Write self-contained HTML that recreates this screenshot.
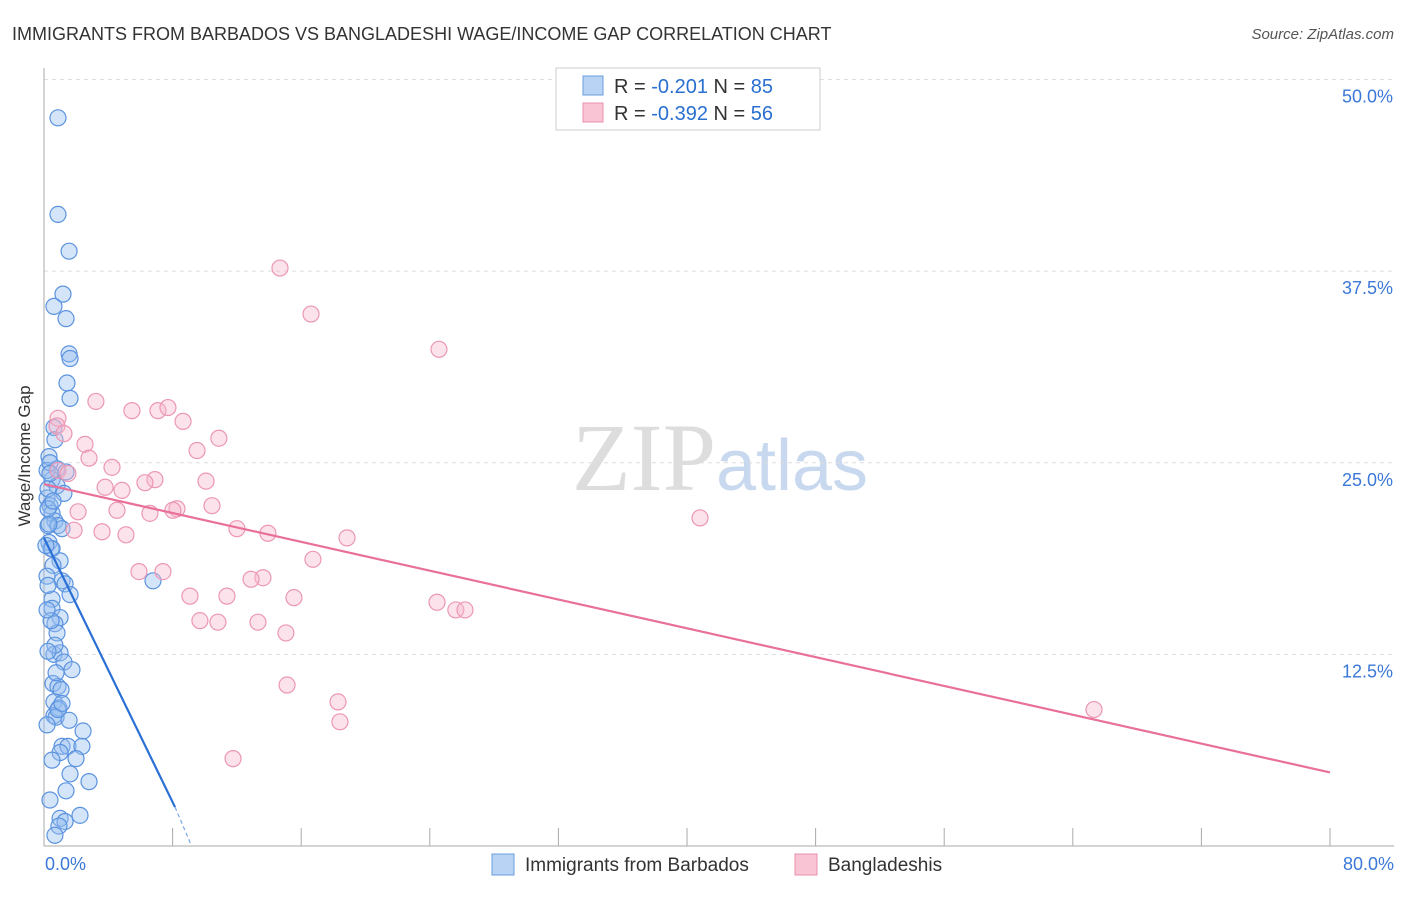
<!DOCTYPE html>
<html><head><meta charset="utf-8"><style>
body{margin:0;background:#fff;font-family:"Liberation Sans",sans-serif}
</style></head><body>
<svg width="1406" height="892" xmlns="http://www.w3.org/2000/svg" font-family="Liberation Sans, sans-serif">
<text x="12" y="40" font-size="18" fill="#333">IMMIGRANTS FROM BARBADOS VS BANGLADESHI WAGE/INCOME GAP CORRELATION CHART</text>
<text x="1394" y="39" font-size="15" fill="#555" font-style="italic" text-anchor="end">Source: ZipAtlas.com</text>
<text x="720" y="490" font-size="96" fill="#ddd" text-anchor="middle" font-family="Liberation Serif, serif">ZIP<tspan fill="#c8d8ee" font-family="Liberation Sans, sans-serif" font-size="72">atlas</tspan></text>
<g id="grid"></g>
<line x1="44" y1="68" x2="44" y2="846" stroke="#aaa"/>
<line x1="44" y1="846" x2="1394" y2="846" stroke="#aaa"/>
<text x="30" y="456" font-size="17" fill="#333" text-anchor="middle" transform="rotate(-90 30 456)">Wage/Income Gap</text>
<g id="pts"></g>
<g id="lines"></g>
<g>
<rect x="556" y="68" width="264" height="62" fill="#fff" stroke="#ccc"/>
<rect x="583" y="76" width="20" height="19" fill="#b9d3f5" stroke="#6a9de0"/>
<rect x="583" y="103" width="20" height="19" fill="#f9c5d4" stroke="#ea90ab"/>
<text x="614" y="93" font-size="20" fill="#333">R = <tspan fill="#2a6fd0">-0.201</tspan>   N = <tspan fill="#2a6fd0">85</tspan></text>
<text x="614" y="120" font-size="20" fill="#333">R = <tspan fill="#2a6fd0">-0.392</tspan>   N = <tspan fill="#2a6fd0">56</tspan></text>
</g>
<g>
<rect x="492" y="854" width="22" height="21" fill="#b9d3f5" stroke="#6a9de0"/>
<text x="525" y="871" font-size="19" fill="#333">Immigrants from Barbados</text>
<rect x="795" y="854" width="22" height="21" fill="#f9c5d4" stroke="#ea90ab"/>
<text x="828" y="871" font-size="19" fill="#333">Bangladeshis</text>
</g>
<text x="45" y="870" font-size="18" fill="#3b78d8">0.0%</text>
<text x="1394" y="870" font-size="18" fill="#3b78d8" text-anchor="end">80.0%</text>
</svg>
<script>
const yTicks=[12.5,25,37.5,50];
const yTickLabels=["12.5%","25.0%","37.5%","50.0%"];
const xTicks=[8,16,24,32,40,48,56,64,72,80];
const blueX=[0.87,0.87,1.56,1.18,0.62,1.37,1.56,1.62,1.43,1.62,0.62,0.68,0.31,0.81,1.37,0.5,0.81,1.24,0.19,0.37,0.5,0.68,0.25,0.87,1.12,0.31,0.44,1.0,0.56,0.19,1.12,1.31,1.62,0.5,0.5,1.0,0.68,0.81,0.62,1.0,1.24,1.74,0.56,0.87,1.06,0.62,0.93,0.62,0.75,1.56,2.43,1.12,1.49,2.36,1.0,1.99,1.62,2.8,2.24,1.0,1.31,0.93,0.68,6.78,0.19,0.37,0.25,0.31,0.5,0.25,0.44,0.68,0.25,0.87,0.19,0.5,0.37,0.25,0.37,0.56,0.12,0.19,0.75,1.12,1.37];
const blueY=[47.5,41.2,38.8,36.0,35.2,34.4,32.1,31.8,30.2,29.2,27.3,26.5,25.4,24.6,24.4,23.9,23.5,23.0,22.7,22.2,21.7,21.2,20.9,20.9,20.7,19.8,19.4,18.6,18.3,17.6,17.3,17.1,16.4,16.1,15.5,14.9,14.5,13.9,12.5,12.6,12.0,11.5,10.6,10.4,10.2,9.4,9.0,8.5,8.4,8.2,7.5,6.5,6.5,6.5,6.1,5.7,4.7,4.2,2.0,1.8,1.6,1.3,0.7,17.3,24.5,25.0,23.3,21.0,19.4,17.0,14.7,13.1,12.7,8.9,7.9,5.6,3.0,22.0,24.3,22.5,19.6,15.4,11.3,9.3,3.6];
const pinkX=[0.87,0.81,1.24,3.23,5.47,7.09,7.71,8.65,10.88,2.55,2.8,4.23,9.52,0.87,1.49,6.9,6.28,10.08,3.8,4.85,8.27,4.54,6.59,8.02,10.45,2.12,1.87,3.61,5.1,12.0,13.93,18.85,16.73,5.91,7.4,13.62,12.88,9.08,11.38,15.55,9.7,10.82,13.31,15.05,24.45,25.62,26.19,15.12,18.29,18.41,11.76,14.68,16.61,24.57,40.81,65.32];
const pinkY=[27.9,27.4,26.9,29.0,28.4,28.4,28.6,27.7,26.6,26.2,25.3,24.7,25.8,24.5,24.3,23.9,23.7,23.8,23.4,23.2,22.0,21.9,21.7,21.9,22.2,21.8,20.6,20.5,20.3,20.7,20.4,20.1,18.7,17.9,17.9,17.5,17.4,16.3,16.3,16.2,14.7,14.6,14.6,13.9,15.9,15.4,15.4,10.5,9.4,8.1,5.7,37.7,34.7,32.4,21.4,8.9];
const blueLine=[[0,20.1],[8.15,2.54]];const blueDash=[[8.15,2.54],[9.1,0.2]];
const pinkLine=[[0,23.6],[80,4.8]];
const X=v=>44+v*16.075, Y=v=>846-v*15.33;
const NS="http://www.w3.org/2000/svg";
const mk=(t,a,p)=>{const e=document.createElementNS(NS,t);for(const k in a)e.setAttribute(k,a[k]);document.getElementById(p).appendChild(e);return e;};
yTicks.forEach((t,i)=>{
 const l=mk('line',{x1:44,x2:1394,y1:Y(t),y2:Y(t),stroke:'#ddd','stroke-dasharray':'4,4'},'grid');
 
 
 const tx=mk('text',{x:1393,y:Y(t)+23,'font-size':18,fill:'#3b78d8','text-anchor':'end'},'grid');
 tx.textContent=yTickLabels[i];
 
 
});
xTicks.forEach(t=>{
 const l=mk('line',{x1:X(t),x2:X(t),y1:828,y2:846,stroke:'#aaa'},'grid');
 
 
});
blueX.forEach((v,i)=>{
 const c=mk('circle',{cx:X(v),cy:Y(blueY[i]),r:8,fill:'rgba(150,190,240,0.4)',stroke:'#5b93df','stroke-width':1.2},'pts');
 
 
});
pinkX.forEach((v,i)=>{
 const c=mk('circle',{cx:X(v),cy:Y(pinkY[i]),r:8,fill:'rgba(248,185,205,0.4)',stroke:'#ec97b2','stroke-width':1.2},'pts');
 
 
});
let l=mk('line',{x1:X(blueLine[0][0]),y1:Y(blueLine[0][1]),x2:X(blueLine[1][0]),y2:Y(blueLine[1][1]),stroke:'#2a6fd6','stroke-width':2.2},'lines');


l=mk('line',{x1:X(blueDash[0][0]),y1:Y(blueDash[0][1]),x2:X(blueDash[1][0]),y2:Y(blueDash[1][1]),stroke:'#7aa6e6','stroke-width':1.2,'stroke-dasharray':'4,3'},'lines');


l=mk('line',{x1:X(pinkLine[0][0]),y1:Y(pinkLine[0][1]),x2:X(pinkLine[1][0]),y2:Y(pinkLine[1][1]),stroke:'#e8709a','stroke-width':2.2},'lines');


</script>
</body></html>
